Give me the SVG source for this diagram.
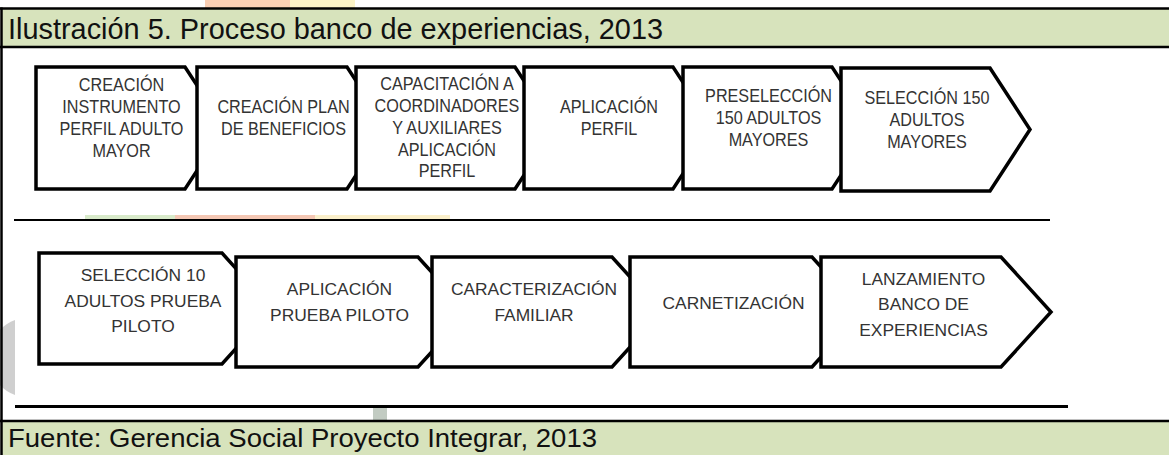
<svg xmlns="http://www.w3.org/2000/svg" width="1169" height="455" viewBox="0 0 1169 455">
<style>
.band{fill:#d7e3bc}
.rule{stroke:#000;fill:none}
.cap{font-family:"Liberation Sans",Arial,sans-serif;fill:#111}
.step{fill:#fff;stroke:#000;stroke-width:3.5;stroke-linejoin:miter}
.t1{font-family:"Liberation Sans",Arial,sans-serif;font-size:18px;fill:#333;text-anchor:middle}
.t2{font-family:"Liberation Sans",Arial,sans-serif;font-size:17.4px;fill:#333;text-anchor:middle}
</style>
<rect x="0" y="0" width="1169" height="455" fill="#fff"/>
<g id="watermark" opacity="0.55">
<rect x="205" y="0" width="85" height="8" fill="#f6a878"/>
<rect x="290" y="0" width="65" height="8" fill="#fbec9a"/>
<rect x="85" y="215" width="90" height="4" fill="#b9d9a0"/>
<rect x="175" y="215" width="140" height="4" fill="#ec9a78"/>
<rect x="315" y="215" width="135" height="4" fill="#f7e3a0"/>
<path d="M15 320 A40 40 0 0 0 15 395 Z" fill="#a8a8a8"/>
<rect x="373" y="408" width="14" height="12" fill="#8fa08f"/>
</g>
<g id="frame">
<rect class="band" x="1.5" y="8.5" width="1169" height="38.5"/>
<rect class="band" x="1.5" y="421" width="1169" height="36"/>
<line class="rule" x1="0" y1="8.5" x2="1169" y2="8.5" stroke-width="2.5"/>
<line class="rule" x1="0" y1="47" x2="1169" y2="47" stroke-width="2.5"/>
<line class="rule" x1="0" y1="421" x2="1169" y2="421" stroke-width="2.5"/>
<line class="rule" x1="1.5" y1="7.5" x2="1.5" y2="455" stroke-width="2.5"/>
<line class="rule" x1="14" y1="220" x2="1050" y2="220" stroke-width="2.2"/>
<line class="rule" x1="15" y1="406.5" x2="1068" y2="406.5" stroke-width="3.2"/>
<text class="cap" x="8" y="39" font-size="30" textLength="655" lengthAdjust="spacingAndGlyphs">Ilustración 5. Proceso banco de experiencias, 2013</text>
<text class="cap" x="8" y="447" font-size="26" textLength="589" lengthAdjust="spacingAndGlyphs">Fuente: Gerencia Social Proyecto Integrar, 2013</text>
</g>
<g id="connectors"></g>
<g id="n1">
<path class="step" d="M36 67 H185 L225 128 L185 189 H36 Z"/>
<g class="t1" transform="translate(121.5 0) scale(0.9 1)"><text x="0" y="91">CREACIÓN</text><text x="0" y="113">INSTRUMENTO</text><text x="0" y="135">PERFIL ADULTO</text><text x="0" y="157">MAYOR</text></g>
</g>
<g id="n2">
<path class="step" d="M197 67 H347 L387 128 L347 189 H197 Z"/>
<g class="t1" transform="translate(283.5 0) scale(0.9 1)"><text x="0" y="113">CREACIÓN PLAN</text><text x="0" y="135">DE BENEFICIOS</text></g>
</g>
<g id="n3">
<path class="step" d="M356 67 H515 L555 128 L515 189 H356 Z"/>
<g class="t1" transform="translate(447 0) scale(0.9 1)"><text x="0" y="90">CAPACITACIÓN A</text><text x="0" y="112">COORDINADORES</text><text x="0" y="134">Y AUXILIARES</text><text x="0" y="156">APLICACIÓN</text><text x="0" y="177.5">PERFIL</text></g>
</g>
<g id="n4">
<path class="step" d="M524 67 H673 L713 128 L673 189 H524 Z"/>
<g class="t1" transform="translate(609 0) scale(0.9 1)"><text x="0" y="113">APLICACIÓN</text><text x="0" y="135">PERFIL</text></g>
</g>
<g id="n5">
<path class="step" d="M683 67 H832 L872 128 L832 189 H683 Z"/>
<g class="t1" transform="translate(768.5 0) scale(0.9 1)"><text x="0" y="102">PRESELECCIÓN</text><text x="0" y="124">150 ADULTOS</text><text x="0" y="146.5">MAYORES</text></g>
</g>
<g id="n6">
<path class="step" d="M841 68 H990 L1030 129.5 L990 191 H841 Z"/>
<g class="t1" transform="translate(927 0) scale(0.9 1)"><text x="0" y="104">SELECCIÓN 150</text><text x="0" y="126">ADULTOS</text><text x="0" y="148">MAYORES</text></g>
</g>
<g id="n7">
<path class="step" d="M39 253 H222 L272 308.5 L222 364 H39 Z"/>
<g class="t2"><text x="143" y="281">SELECCIÓN 10</text><text x="143" y="306.5">ADULTOS PRUEBA</text><text x="143" y="332">PILOTO</text></g>
</g>
<g id="n8">
<path class="step" d="M236 257 H418 L468 312 L418 367 H236 Z"/>
<g class="t2"><text x="339.5" y="295">APLICACIÓN</text><text x="339.5" y="321">PRUEBA PILOTO</text></g>
</g>
<g id="n9">
<path class="step" d="M432 257 H612 L662 312 L612 367 H432 Z"/>
<g class="t2"><text x="534" y="294.5">CARACTERIZACIÓN</text><text x="534" y="321">FAMILIAR</text></g>
</g>
<g id="n10">
<path class="step" d="M630 257 H812 L862 312 L812 367 H630 Z"/>
<g class="t2"><text x="733.5" y="308.5">CARNETIZACIÓN</text></g>
</g>
<g id="n11">
<path class="step" d="M821 257 H1001 L1051 312 L1001 367 H821 Z"/>
<g class="t2"><text x="923.5" y="284.5">LANZAMIENTO</text><text x="923.5" y="310">BANCO DE</text><text x="923.5" y="336">EXPERIENCIAS</text></g>
</g>
</svg>
